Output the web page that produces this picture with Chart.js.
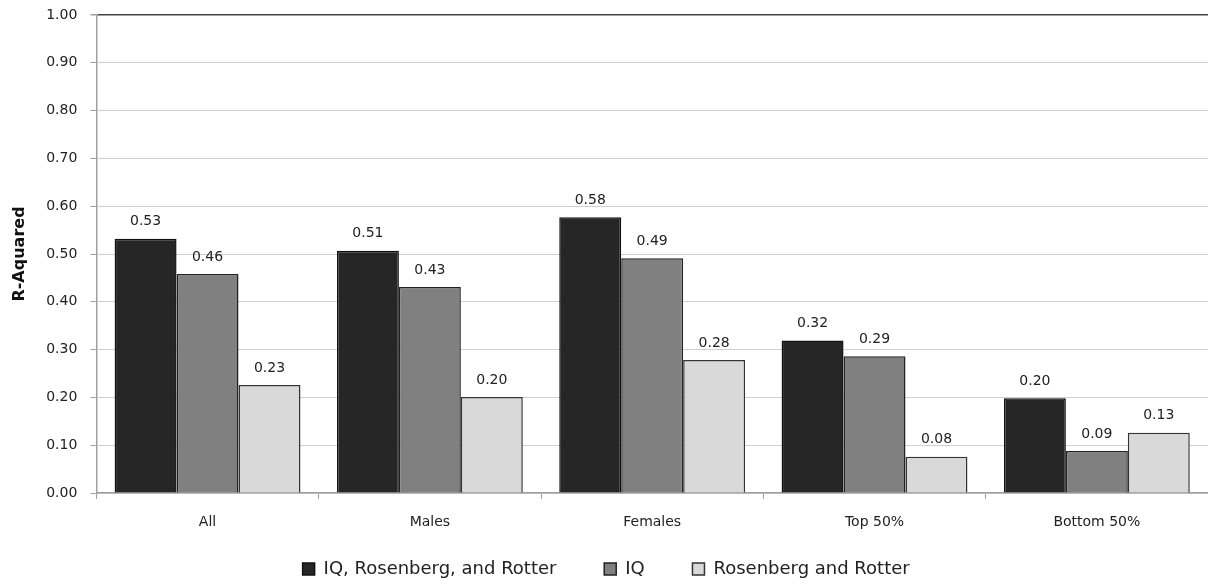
<!DOCTYPE html>
<html>
<head>
<meta charset="utf-8">
<title>R-Aquared</title>
<script src="https://cdn.jsdelivr.net/npm/chart.js@4.4.1/dist/chart.umd.min.js"></script>
<style>
  body { margin: 0; background: #fff; }
  #wrap { width: 1208px; height: 588px; }
</style>
</head>
<body>
<div id="wrap"><canvas id="grafico"></canvas></div>
<script>
// categorias e valores
const grupos = ['All', 'Males', 'Females', 'Top 50%', 'Bottom 50%']
const nomes = ['IQ, Rosenberg, and Rotter', 'IQ', 'Rosenberg and Rotter']
const iqRosRot = [0.532, 0.507, 0.577, 0.319, 0.198]
const soIq = [0.458, 0.431, 0.491, 0.286, 0.088]
const rosRot = [0.226, 0.201, 0.278, 0.076, 0.126]
const yTicks = [0, 0.1, 0.2, 0.3, 0.4, 0.5, 0.6, 0.7, 0.8, 0.9, 1.0]

const fonte = 'DejaVu Sans'
// espaco extra depois de cada item da legenda (o excel deixa colunas largas)
const folga = [8, 8, 1]

// escreve o valor em cima de cada barra
const rotulos = {
  id: 'rotulos',
  afterDatasetsDraw(chart) {
    const ctx = chart.ctx
    ctx.save()
    ctx.font = '14px ' + fonte
    ctx.fillStyle = '#222'
    ctx.textAlign = 'center'
    ctx.textBaseline = 'bottom'
    chart.data.datasets.forEach((ds, i) => {
      chart.getDatasetMeta(i).data.forEach((bar, j) => {
        ctx.fillText(ds.data[j].toFixed(2), bar.x, bar.y - 10)
      })
    })
    ctx.restore()
  }
}

new Chart(document.getElementById('grafico'), {
  type: 'bar',
  data: {
    labels: grupos,
    datasets: [
      {
        label: nomes[0],
        data: iqRosRot,
        backgroundColor: '#262626',
        borderColor: '#111',
        borderWidth: 1.5
      },
      {
        label: nomes[1],
        data: soIq,
        backgroundColor: '#808080',
        borderColor: '#222',
        borderWidth: 1.5
      },
      {
        label: nomes[2],
        data: rosRot,
        backgroundColor: '#d9d9d9',
        borderColor: '#333',
        borderWidth: 1.5
      }
    ]
  },
  options: {
    responsive: true,
    maintainAspectRatio: false,
    animation: false,
    layout: { padding: { top: 0, right: 0, left: 10, bottom: 0 } },
    datasets: {
      bar: { categoryPercentage: 0.836, barPercentage: 1.0 }
    },
    plugins: {
      tooltip: { enabled: false },
      legend: {
        position: 'bottom',
        labels: {
          font: { family: fonte, size: 18 },
          color: '#222',
          boxWidth: 12,
          boxHeight: 12,
          padding: 2,
          generateLabels(chart) {
            const base = Chart.defaults.plugins.legend.labels.generateLabels(chart)
            base.forEach((it, i) => { it.text = it.text + '\u00a0'.repeat(folga[i]) })
            return base
          }
        }
      }
    },
    scales: {
      x: {
        afterFit(scale) {
          scale.height = 65
        },
        grid: {
          offset: true,
          drawOnChartArea: false,
          color: '#a0a0a0',
          tickLength: 6
        },
        border: { color: '#a0a0a0', width: 1.5 },
        ticks: {
          font: { family: fonte, size: 14 },
          color: '#222',
          padding: 15
        }
      },
      y: {
        min: 0,
        max: 1,
        afterBuildTicks(axis) {
          axis.ticks = yTicks.map(v => ({ value: v }))
        },
        afterFit(scale) {
          // o padding dos ticks empurrava o topo do grafico para baixo
          scale.paddingTop = 15
        },
        grid: {
          color: ctx => ctx.tick && ctx.tick.value === 1 ? '#444' : '#d0d0d0',
          lineWidth: ctx => ctx.tick && ctx.tick.value === 1 ? 1.5 : 1,
          borderDash: [2, 2],
          tickColor: '#a0a0a0',
          tickBorderDash: [],
          tickLength: 6
        },
        border: { color: '#a0a0a0', width: 1.5 },
        ticks: {
          font: { family: fonte, size: 14 },
          color: '#222',
          padding: 13,
          callback: v => Number(v).toFixed(2)
        },
        title: {
          display: true,
          text: 'R-Aquared',
          font: { family: fonte, size: 16, weight: 'bold' },
          color: '#111',
          padding: { top: 0, bottom: 4 }
        }
      }
    }
  },
  plugins: [rotulos]
})
</script>
</body>
</html>
